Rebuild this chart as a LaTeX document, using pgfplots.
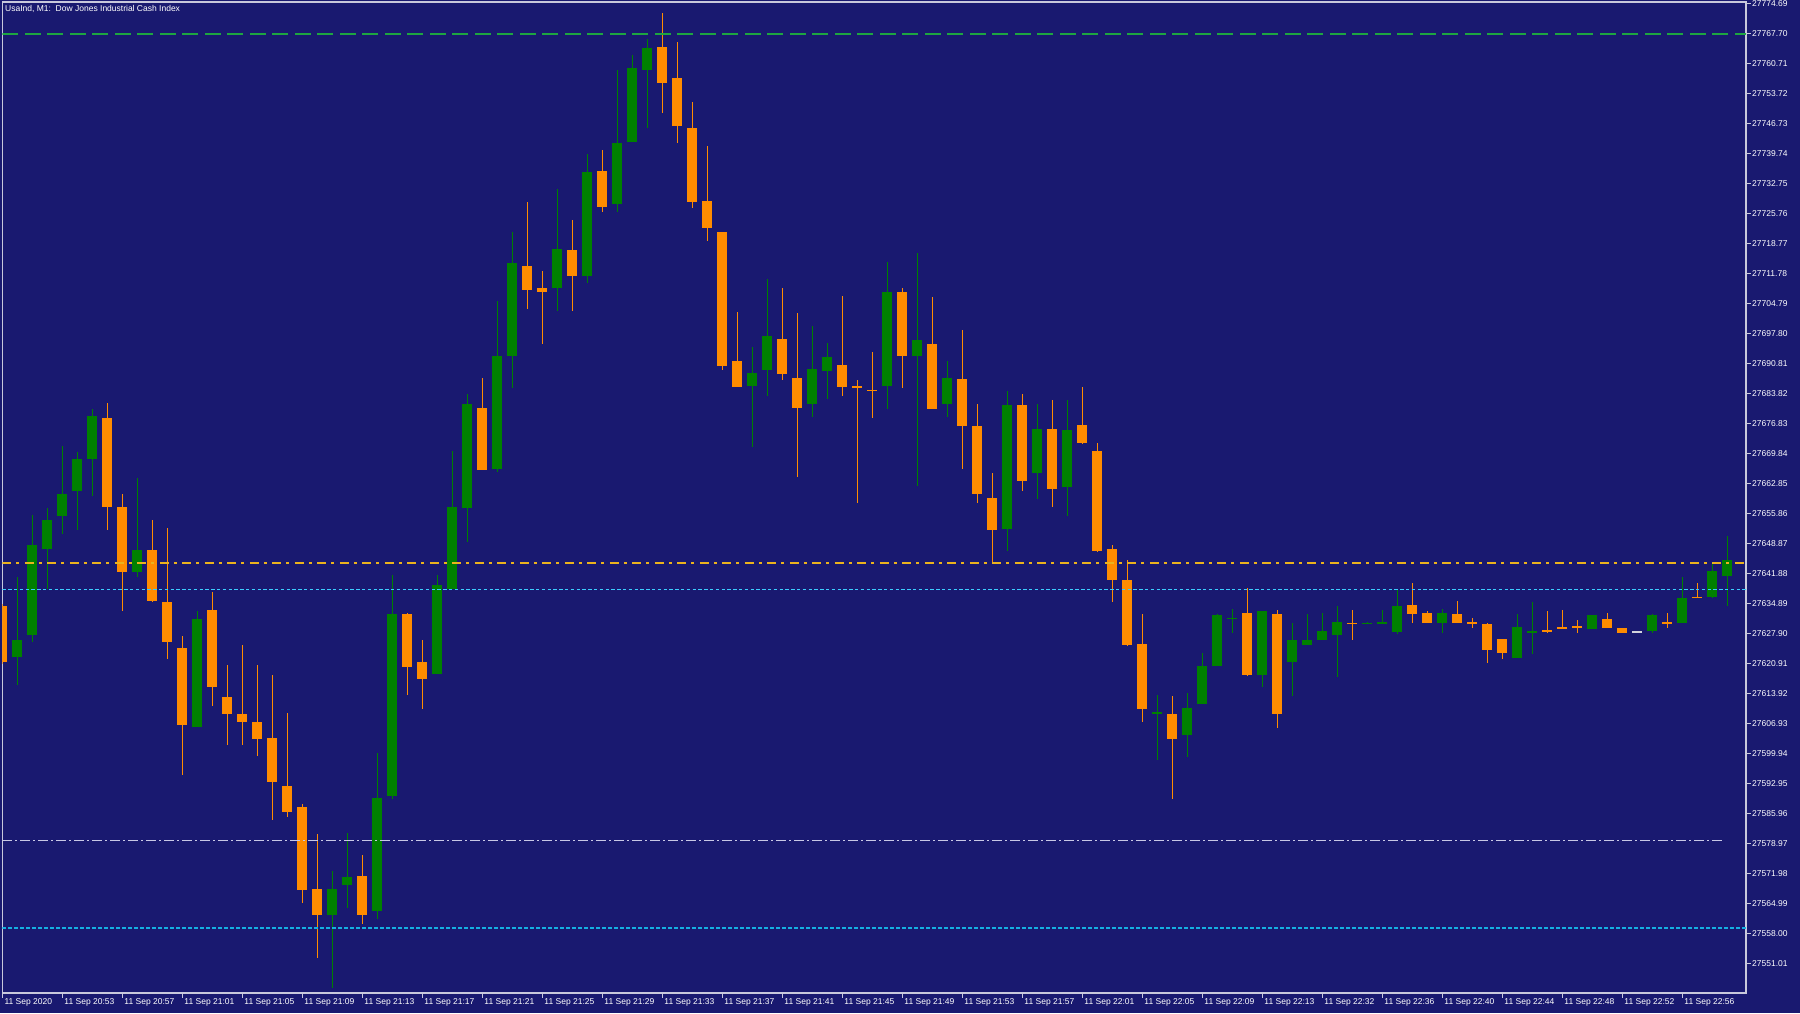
\documentclass[border=0pt]{standalone}
\usepackage{pgfplots}
\pgfplotsset{compat=1.18}
\usepackage{pgfplotstable}
\usepackage{fontspec}
\setmainfont{Liberation Sans}
\definecolor{bg}{RGB}{25,25,112}
\definecolor{cgreen}{RGB}{0,128,0}
\definecolor{corange}{RGB}{255,140,0}
\definecolor{framecol}{RGB}{200,200,220}
\definecolor{lvlgreen}{RGB}{30,165,65}
\definecolor{lvlgold}{RGB}{235,178,30}
\definecolor{cyanA}{RGB}{60,205,255}
\definecolor{cyanB}{RGB}{20,175,225}
\definecolor{lav}{RGB}{200,200,230}
\definecolor{dojicol}{RGB}{210,210,220}

% d: 1 = up (green) candle, -1 = down (orange) candle, 0 = doji
\pgfplotstableread{
k o h l c d
0 27634.24 27634.90 27620.80 27621.26 -1
1 27622.36 27641.15 27616.00 27626.41 1
2 27627.42 27655.51 27626.04 27648.51 1
3 27647.50 27657.26 27638.29 27654.41 1
4 27655.33 27671.54 27651.19 27660.49 1
5 27661.22 27670.25 27652.11 27668.59 1
6 27668.50 27680.38 27660.12 27678.63 1
7 27678.17 27681.58 27652.11 27657.26 -1
8 27657.26 27660.49 27633.23 27642.16 -1
9 27642.25 27664.26 27641.15 27647.41 1
10 27647.41 27654.41 27635.25 27635.44 -1
11 27635.34 27652.47 27622.08 27626.04 -1
12 27624.38 27627.33 27595.01 27606.43 -1
13 27606.15 27633.32 27606.15 27631.38 1
14 27633.41 27637.46 27611.03 27615.36 -1
15 27613.24 27620.52 27602.01 27609.19 -1
16 27609.28 27625.31 27602.01 27607.26 -1
17 27607.44 27620.52 27599.24 27603.39 -1
18 27603.48 27618.12 27584.32 27593.26 -1
19 27592.24 27609.37 27585.24 27586.35 -1
20 27587.55 27588.28 27565.17 27568.20 -1
21 27568.48 27581.37 27552.27 27562.31 -1
22 27562.31 27572.44 27545.37 27568.30 1
23 27569.31 27581.37 27564.06 27571.34 1
24 27571.43 27576.40 27560.29 27562.31 -1
25 27563.23 27600.16 27561.48 27589.48 1
26 27590.22 27641.52 27589.30 27632.49 1
27 27632.49 27632.60 27613.43 27620.15 -1
28 27621.35 27626.41 27610.39 27617.39 -1
29 27618.49 27641.52 27618.49 27639.21 1
30 27638.23 27670.38 27638.23 27657.30 1
31 27657.11 27683.73 27649.29 27681.52 1
32 27680.41 27687.41 27666.05 27666.05 -1
33 27666.32 27705.56 27665.49 27692.66 1
34 27692.66 27721.40 27685.11 27714.31 1
35 27713.57 27728.40 27703.44 27708.04 -1
36 27708.32 27712.46 27695.43 27707.40 -1
37 27708.23 27731.62 27703.16 27717.53 1
38 27717.35 27724.35 27702.98 27711.27 -1
39 27711.27 27739.63 27709.43 27735.49 1
40 27735.67 27740.65 27726.19 27727.29 -1
41 27728.12 27759.16 27726.19 27742.40 1
42 27742.31 27762.57 27742.31 27759.53 1
43 27759.34 27766.53 27745.62 27764.50 1
44 27764.50 27772.42 27749.21 27756.30 -1
45 27757.32 27765.70 27742.30 27746.17 -1
46 27745.53 27751.70 27727.11 27728.49 -1
47 27728.67 27741.57 27719.46 27722.41 -1
48 27721.49 27721.60 27689.44 27690.36 -1
49 27691.56 27702.70 27685.20 27685.48 -1
50 27685.57 27694.60 27671.39 27688.70 1
51 27689.44 27710.53 27683.18 27697.36 1
52 27696.53 27708.41 27687.05 27688.43 -1
53 27687.41 27702.43 27664.39 27680.32 -1
54 27681.40 27699.58 27678.30 27689.56 1
55 27689.02 27695.46 27682.41 27692.36 1
56 27690.41 27706.65 27683.27 27685.29 -1
57 27685.68 27687.07 27658.34 27685.29 -1
58 27684.60 27693.44 27678.06 27684.40 -1
59 27685.52 27714.41 27680.24 27707.42 1
60 27707.50 27708.51 27685.05 27692.51 -1
61 27692.51 27716.67 27662.30 27696.32 1
62 27695.46 27706.41 27680.24 27680.24 -1
63 27681.40 27691.50 27678.30 27687.38 1
64 27687.38 27698.57 27666.26 27676.36 -1
65 27676.36 27681.48 27658.34 27660.36 -1
66 27659.58 27665.48 27644.20 27652.12 -1
67 27652.28 27684.51 27647.07 27681.25 1
68 27681.25 27683.66 27660.98 27663.46 -1
69 27665.17 27681.48 27659.27 27675.50 1
70 27675.50 27682.34 27657.33 27661.44 -1
71 27662.06 27682.34 27655.31 27675.35 1
72 27676.43 27685.44 27672.16 27672.16 -1
73 27670.53 27672.39 27646.92 27647.15 -1
74 27647.54 27648.47 27635.27 27640.24 -1
75 27640.39 27645.17 27625.17 27625.17 -1
76 27625.33 27632.55 27607.23 27610.34 -1
77 27609.41 27613.52 27598.30 27609.60 1
78 27609.17 27613.29 27589.37 27603.27 -1
79 27604.20 27614.14 27599.15 27610.42 1
80 27611.43 27623.31 27611.43 27620.28 1
81 27620.36 27632.55 27620.36 27632.32 1
82 27631.31 27633.56 27628.05 27631.45 1
83 27632.55 27638.38 27618.10 27618.10 -1
84 27618.18 27633.17 27615.31 27633.17 1
85 27632.55 27633.56 27605.91 27609.17 -1
86 27621.29 27630.30 27613.37 27626.34 1
87 27625.17 27632.55 27625.17 27626.34 1
88 27626.26 27632.55 27626.26 27628.36 1
89 27627.35 27634.42 27617.95 27630.53 1
90 27630.26 27633.41 27626.49 27630.10 -1
91 27630.25 27630.60 27630.15 27630.35 1
92 27630.30 27633.41 27630.30 27630.40 1
93 27628.28 27638.38 27627.97 27634.26 1
94 27634.49 27639.62 27630.38 27632.40 -1
95 27632.55 27633.17 27630.22 27630.22 -1
96 27630.22 27633.56 27628.05 27632.55 1
97 27632.55 27635.43 27630.45 27630.45 -1
98 27630.50 27631.39 27629.06 27630.30 -1
99 27630.30 27630.30 27620.98 27624.16 -1
100 27626.57 27626.57 27621.99 27623.39 -1
101 27622.14 27632.55 27622.14 27629.37 1
102 27628.36 27635.19 27623.20 27628.45 1
103 27628.60 27633.25 27628.20 27628.40 -1
104 27629.45 27633.48 27629.21 27629.21 -1
105 27629.50 27631.15 27628.20 27629.30 -1
106 27629.06 27632.32 27629.06 27632.32 1
107 27631.23 27632.55 27629.29 27629.29 -1
108 27629.29 27629.29 27628.05 27628.05 -1
109 27628.30 27628.50 27628.05 27628.30 0
110 27628.44 27632.55 27628.05 27632.32 1
111 27630.40 27632.55 27629.06 27630.30 -1
112 27630.38 27641.17 27630.38 27636.28 1
113 27636.44 27639.62 27636.05 27636.30 -1
114 27636.36 27644.36 27636.36 27642.42 1
115 27641.33 27650.49 27634.34 27645.21 1
}\candles

\pgfplotsset{
  candlepart/.style n args={2}{draw=none, mark=none, forget plot,
    error bars/.cd, y dir=both, y explicit, error mark=none,
    error bar style={draw=#1, line width=#2, solid}},
}

\begin{document}
\begin{tikzpicture}[x=1pt,y=1pt]
\fill[bg] (0,0) rectangle (1800,1013);
\begin{axis}[
  at={(2.3pt,20pt)}, anchor=south west,
  scale only axis, width=1743.7pt, height=991pt,
  xmin=0, xmax=116.25, ymin=27544.09, ymax=27774.99,
  axis line style={draw=framecol, line width=1.2pt},
  tick align=outside, major tick length=5pt,
  xtick pos=bottom, ytick pos=right, yticklabel pos=right,
  tick style={draw=framecol, line width=1pt},
  xtick={0,4,...,112},
  xticklabels={11 Sep 2020,11 Sep 20:53,11 Sep 20:57,11 Sep 21:01,11 Sep 21:05,11 Sep 21:09,11 Sep 21:13,11 Sep 21:17,11 Sep 21:21,11 Sep 21:25,11 Sep 21:29,11 Sep 21:33,11 Sep 21:37,11 Sep 21:41,11 Sep 21:45,11 Sep 21:49,11 Sep 21:53,11 Sep 21:57,11 Sep 22:01,11 Sep 22:05,11 Sep 22:09,11 Sep 22:13,11 Sep 22:32,11 Sep 22:36,11 Sep 22:40,11 Sep 22:44,11 Sep 22:48,11 Sep 22:52,11 Sep 22:56},
  ytick={27551.01,27558.00,27564.99,27571.98,27578.97,27585.96,27592.95,27599.94,27606.93,27613.92,27620.91,27627.90,27634.89,27641.88,27648.87,27655.86,27662.85,27669.84,27676.83,27683.82,27690.81,27697.80,27704.79,27711.78,27718.77,27725.76,27732.75,27739.74,27746.73,27753.72,27760.71,27767.70,27774.69},
  yticklabels={27551.01,27558.00,27564.99,27571.98,27578.97,27585.96,27592.95,27599.94,27606.93,27613.92,27620.91,27627.90,27634.89,27641.88,27648.87,27655.86,27662.85,27669.84,27676.83,27683.82,27690.81,27697.80,27704.79,27711.78,27718.77,27725.76,27732.75,27739.74,27746.73,27753.72,27760.71,27767.70,27774.69},
  every tick label/.append style={font=\fontsize{8.5}{10}\selectfont, text=white, inner sep=0pt},
  xticklabel style={anchor=north west, xshift=2pt},
  yticklabel style={anchor=west, xshift=1pt},
  clip=true,
]
% wicks
\addplot[candlepart={cgreen}{1pt}]
  table[x=k, y expr={\thisrow{d}>0.5 ? (\thisrow{h}+\thisrow{l})/2 : nan}, y error expr={(\thisrow{h}-\thisrow{l})/2}] {\candles};
\addplot[candlepart={corange}{1pt}]
  table[x=k, y expr={\thisrow{d}<-0.5 ? (\thisrow{h}+\thisrow{l})/2 : nan}, y error expr={(\thisrow{h}-\thisrow{l})/2}] {\candles};
\addplot[candlepart={dojicol}{1pt}]
  table[x=k, y expr={abs(\thisrow{d})<0.5 ? (\thisrow{h}+\thisrow{l})/2 : nan}, y error expr={(\thisrow{h}-\thisrow{l})/2}] {\candles};
% bodies
\addplot[candlepart={cgreen}{10pt}]
  table[x=k, y expr={\thisrow{d}>0.5 ? (\thisrow{o}+\thisrow{c})/2 : nan}, y error expr={max(abs(\thisrow{c}-\thisrow{o})/2,0.12)}] {\candles};
\addplot[candlepart={corange}{10pt}]
  table[x=k, y expr={\thisrow{d}<-0.5 ? (\thisrow{o}+\thisrow{c})/2 : nan}, y error expr={max(abs(\thisrow{o}-\thisrow{c})/2,0.12)}] {\candles};
\addplot[candlepart={dojicol}{10pt}]
  table[x=k, y expr={abs(\thisrow{d})<0.5 ? \thisrow{o} : nan}, y error expr={0.12}] {\candles};
% horizontal levels
\addplot[draw=lvlgreen, line width=1.6pt, dash pattern=on 16pt off 6.5pt, forget plot] coordinates {(0,27767.6) (116.25,27767.6)};
\addplot[draw=lvlgold, line width=2pt, dash pattern=on 9pt off 5pt on 3pt off 5.5pt, forget plot] coordinates {(0,27644.37) (116.25,27644.37)};
\addplot[draw=cyanA, line width=1.1pt, dash pattern=on 3.5pt off 2.3pt, forget plot] coordinates {(0,27638.18) (116.25,27638.18)};
\addplot[draw=lav, line width=1.3pt, dash pattern=on 10pt off 3pt on 2pt off 3pt, forget plot] coordinates {(0,27579.58) (114.85,27579.58)};
\addplot[draw=cyanB, line width=1.5pt, dash pattern=on 3.5pt off 2.5pt, forget plot] coordinates {(0,27559.25) (116.25,27559.25)};
\end{axis}
\node[anchor=west, text=white, font=\fontsize{8.5}{10}\selectfont, inner sep=0pt] at (5,1003.7) {UsaInd, M1:\ \ Dow Jones Industrial Cash Index};
\pgfresetboundingbox
\path[use as bounding box] (0,0) rectangle (1800,1013);
\end{tikzpicture}
\end{document}
